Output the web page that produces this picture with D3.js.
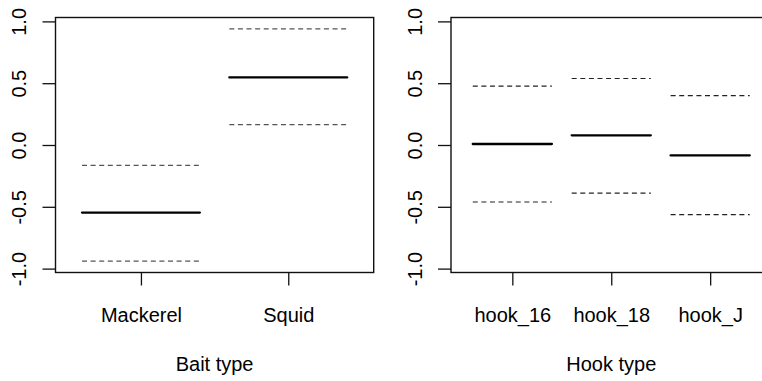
<!DOCTYPE html>
<html>
<head>
<meta charset="utf-8">
<script src="https://cdn.jsdelivr.net/npm/d3@7"></script>
<style>
  html, body { margin: 0; padding: 0; background: #fff; }
  svg { display: block; }
  text { font-family: "Liberation Sans", Arial, sans-serif; fill: #000; }
</style>
</head>
<body>
<svg id="chart" width="762" height="381"></svg>
<script>
// ---- data ----
const baitLevels = ["Mackerel", "Squid"];
const baitFit    = [-0.547, 0.547];
const baitUpper  = [-0.165, 0.940];
const baitLower  = [-0.940, 0.165];

const hookLevels = ["hook_16", "hook_18", "hook_J"];
const hookFit    = [0.008, 0.078, -0.084];
const hookUpper  = [0.476, 0.538, 0.400];
const hookLower  = [-0.461, -0.390, -0.564];

const yTicks      = [-1, -0.5, 0, 0.5, 1];
const yTickLabels = ["-1.0", "-0.5", "0.0", "0.5", "1.0"];

const svg = d3.select("#chart");
const FS = 20;

function panel(opts) {
  const { left, right, top, bottom, levels, fit, upper, lower, xlabel, dashColor } = opts;
  const n = levels.length;
  const lo = 0.5, hi = n + 0.5, ext = (hi - lo) * 0.04;
  const x = d3.scaleLinear().domain([lo - ext, hi + ext]).range([left, right]);
  const y = d3.scaleLinear().domain([-1.0315, 1.0315]).range([bottom, top]);
  const g = svg.append("g");

  // dashed SE lines
  const idx = d3.range(n);
  [upper, lower].forEach(arr => {
    g.selectAll(null).data(idx).enter().append("line")
      .attr("x1", i => x(i + 1 - 0.4)).attr("x2", i => x(i + 1 + 0.4))
      .attr("y1", i => y(arr[i])).attr("y2", i => y(arr[i]))
      .attr("stroke", dashColor).attr("stroke-width", 1.2)
      .attr("stroke-dasharray", "5,3.6");
  });
  // fitted lines
  g.selectAll(null).data(idx).enter().append("line")
    .attr("x1", i => x(i + 1 - 0.4)).attr("x2", i => x(i + 1 + 0.4))
    .attr("y1", i => y(fit[i])).attr("y2", i => y(fit[i]))
    .attr("stroke", "#000").attr("stroke-width", 2.3)
    .attr("stroke-linecap", "round");

  // box
  g.append("rect")
    .attr("x", left).attr("y", top)
    .attr("width", right - left).attr("height", bottom - top)
    .attr("fill", "none").attr("stroke", "#111").attr("stroke-width", 1.4);

  // y axis
  const ya = d3.axisLeft(y).tickValues(yTicks).tickSize(13).tickSizeOuter(0)
    .tickFormat((d, i) => yTickLabels[i]);
  const yg = g.append("g").attr("transform", `translate(${left},0)`).call(ya);
  yg.select(".domain").remove();
  yg.selectAll(".tick line").attr("stroke", "#111").attr("stroke-width", 1.3);
  yg.selectAll(".tick text")
    .attr("x", null).attr("dy", null)
    .attr("transform", "translate(-29.5,0) rotate(-90)")
    .attr("text-anchor", "middle")
    .attr("font-size", FS)
    .attr("font-family", "Liberation Sans, Arial, sans-serif")
    .attr("fill", "#000");

  // x axis
  const xa = d3.axisBottom(x).tickValues(d3.range(1, n + 1)).tickSize(13).tickSizeOuter(0)
    .tickFormat((d, i) => levels[i]);
  const xg = g.append("g").attr("transform", `translate(0,${bottom})`).call(xa);
  xg.select(".domain").remove();
  xg.selectAll(".tick line").attr("stroke", "#111").attr("stroke-width", 1.3);
  xg.selectAll(".tick text")
    .attr("y", 321.7 - bottom).attr("dy", null)
    .attr("font-size", FS)
    .attr("font-family", "Liberation Sans, Arial, sans-serif")
    .attr("fill", "#000");

  g.append("text")
    .attr("x", (left + right) / 2).attr("y", 370.5)
    .attr("text-anchor", "middle").attr("font-size", FS)
    .text(xlabel);
}

panel({ left: 55.5, right: 373.7, top: 17.5, bottom: 272.5,
        levels: baitLevels, fit: baitFit, upper: baitUpper, lower: baitLower,
        xlabel: "Bait type", dashColor: "#555" });
panel({ left: 451, right: 771.5, top: 17.5, bottom: 272.5,
        levels: hookLevels, fit: hookFit, upper: hookUpper, lower: hookLower,
        xlabel: "Hook type", dashColor: "#222" });
</script>
</body>
</html>
